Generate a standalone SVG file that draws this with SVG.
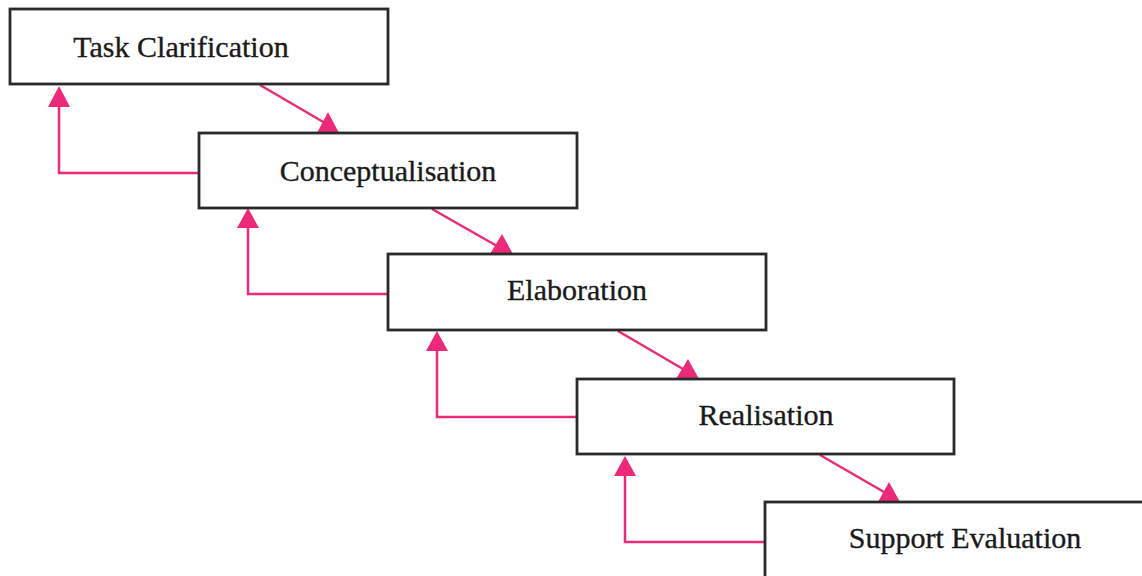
<svg xmlns="http://www.w3.org/2000/svg" width="1142" height="576" viewBox="0 0 1142 576">
  <style>
    .box { fill: #ffffff; stroke: #2a2a2a; stroke-width: 2.8; }
    .label { font-family: "Liberation Serif", "Times New Roman", serif; font-size: 30px; fill: #1a1a1a; stroke: #1a1a1a; stroke-width: 0.35; text-anchor: middle; }
    .wire { fill: none; stroke: #ec2a7a; stroke-width: 2.5; }
    .head { fill: #ec2a7a; stroke: none; }
  </style>
  <rect width="1142" height="576" fill="#ffffff"/>

  <g id="connectors">
    <!-- forward flow: each stage passes down to the next -->
    <line class="wire" x1="260" y1="85" x2="325" y2="123"/>
    <polygon class="head" points="317,133 328,112 339,133"/>
    <line class="wire" x1="432" y1="209" x2="497" y2="246"/>
    <polygon class="head" points="490,254 502,234 513,254"/>
    <line class="wire" x1="618" y1="331" x2="683" y2="369"/>
    <polygon class="head" points="676,379 688,359 699,379"/>
    <line class="wire" x1="820" y1="455" x2="884" y2="492"/>
    <polygon class="head" points="878,502 889,482 900,502"/>

    <!-- feedback: each stage returns to the previous one -->
    <polyline class="wire" points="199,173 59,173 59,104"/>
    <polygon class="head" points="48,107 59,86 70,107"/>
    <polyline class="wire" points="388,294 248,294 248,225"/>
    <polygon class="head" points="237,228 248,208 259,228"/>
    <polyline class="wire" points="577,417 437,417 437,348"/>
    <polygon class="head" points="426,351 437,331 448,351"/>
    <polyline class="wire" points="765,542 625,542 625,473"/>
    <polygon class="head" points="614,476 625,456 636,476"/>
  </g>

  <g id="task-clarification">
    <rect class="box" x="10" y="9" width="378" height="75"/>
    <text class="label" x="181" y="57">Task Clarification</text>
  </g>
  <g id="conceptualisation">
    <rect class="box" x="199" y="133" width="378" height="75"/>
    <text class="label" x="388" y="181">Conceptualisation</text>
  </g>
  <g id="elaboration">
    <rect class="box" x="388" y="254" width="378" height="76"/>
    <text class="label" x="577" y="300">Elaboration</text>
  </g>
  <g id="realisation">
    <rect class="box" x="577" y="379" width="377" height="75"/>
    <text class="label" x="766" y="425">Realisation</text>
  </g>
  <g id="support-evaluation">
    <rect class="box" x="765" y="502" width="380" height="78"/>
    <text class="label" x="965" y="548">Support Evaluation</text>
  </g>
</svg>
